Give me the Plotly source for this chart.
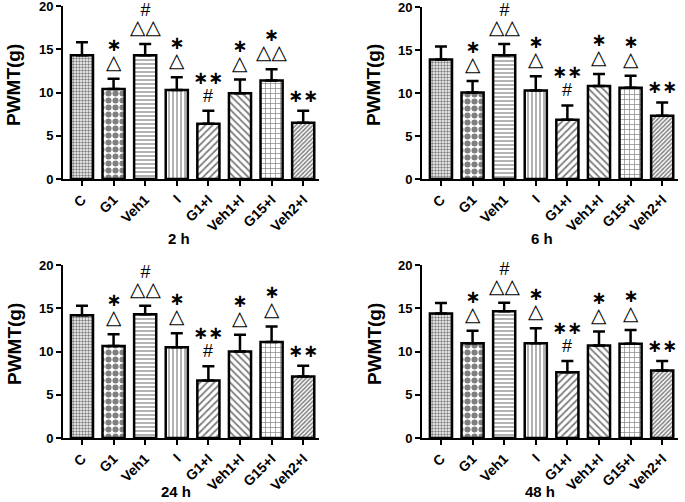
import plotly.graph_objects as go

categories = ["C", "G1", "Veh1", "I", "G1+I", "Veh1+I", "G15+I", "Veh2+I"]
panel_titles = ["2 h", "6 h", "24 h", "48 h"]

means_2h = [14.3, 10.4, 14.3, 10.3, 6.4, 9.9, 11.4, 6.5]
sd_2h = [1.5, 1.2, 1.3, 1.45, 1.5, 1.6, 1.3, 1.4]
means_6h = [13.9, 10.05, 14.4, 10.3, 6.9, 10.8, 10.6, 7.35]
sd_6h = [1.5, 1.35, 1.3, 1.65, 1.65, 1.4, 1.4, 1.55]
means_24h = [14.2, 10.65, 14.3, 10.5, 6.65, 10.0, 11.1, 7.1]
sd_24h = [1.1, 1.35, 1.0, 1.6, 1.65, 1.95, 1.8, 1.25]
means_48h = [14.4, 10.95, 14.65, 10.95, 7.6, 10.7, 10.9, 7.8]
sd_48h = [1.2, 1.45, 1.0, 1.75, 1.3, 1.6, 1.6, 1.1]

# significance marks per bar, listed bottom to top
marks_2h = [[], ["△", "*"], ["△△", "#"], ["△", "*"], ["#", "**"], ["△", "*"], ["△△", "*"], ["**"]]
marks_6h = [[], ["△", "*"], ["△△", "#"], ["△", "*"], ["#", "**"], ["△", "*"], ["△", "*"], ["**"]]
marks_24h = [[], ["△", "*"], ["△△", "#"], ["△", "*"], ["#", "**"], ["△", "*"], ["△", "*"], ["**"]]
marks_48h = [[], ["△", "*"], ["△△", "#"], ["△", "*"], ["#", "**"], ["△", "*"], ["△", "*"], ["**"]]

means_all = [means_2h, means_6h, means_24h, means_48h]
sd_all = [sd_2h, sd_6h, sd_24h, sd_48h]
marks_all = [marks_2h, marks_6h, marks_24h, marks_48h]

W, H = 685, 502
pattern_shapes = [".", ".", "-", "|", "/", "\\", "+", "/"]
pattern_sizes = [3, 7, 4, 4, 5, 5, 5, 3]
pattern_solid = [0.5, 0.6, 0.3, 0.3, 0.35, 0.35, 0.25, 0.5]

x_doms = [[63 / W, 319 / W], [422 / W, 678 / W], [63 / W, 319 / W], [422 / W, 678 / W]]
y_doms = [[1 - 179 / H, 1 - 6 / H], [1 - 179 / H, 1 - 7 / H],
          [1 - 438 / H, 1 - 265 / H], [1 - 438 / H, 1 - 265 / H]]
xtitle_pos = [(179, 238), (542, 238), (176, 491), (540, 491)]
ytitle_pos = [(14, 85), (374, 85), (14, 344), (374, 344)]

fig = go.Figure()
annotations = []
bold = dict(family="Liberation Sans, Arial, sans-serif", color="black", weight="bold")


def style_mark(m):
    if m.startswith("*"):
        return ('<span style="font-family:DejaVu Sans;font-size:18px;font-weight:bold">'
                + m.replace("*", "\u2217") + "</span>")
    if m == "#":
        return ('<span style="font-family:Liberation Sans;font-size:18px">'
                + m + "</span>")
    return '<span style="font-family:DejaVu Sans;font-size:20px">' + m + "</span>"


for p in range(4):
    xa = "x" if p == 0 else f"x{p + 1}"
    ya = "y" if p == 0 else f"y{p + 1}"
    fig.add_trace(go.Bar(
        x=categories, y=means_all[p], xaxis=xa, yaxis=ya, width=0.7,
        marker=dict(color="white", line=dict(color="black", width=2.5),
                    pattern=dict(shape=pattern_shapes, size=pattern_sizes,
                                 solidity=pattern_solid, fgcolor="black",
                                 bgcolor="white", fillmode="overlay")),
        error_y=dict(type="data", symmetric=False, array=sd_all[p],
                     arrayminus=[0] * len(categories), color="black",
                     thickness=2.5, width=6),
        showlegend=False, cliponaxis=False, hoverinfo="skip",
    ))
    axkey = "xaxis" if p == 0 else f"xaxis{p + 1}"
    aykey = "yaxis" if p == 0 else f"yaxis{p + 1}"
    fig.update_layout(**{
        axkey: dict(domain=x_doms[p], anchor=ya, range=[-0.6, 7.5], showline=True,
                    linewidth=2, linecolor="black", ticks="outside", ticklen=5,
                    tickwidth=2, tickcolor="black", tickangle=-45, automargin=False,
                    ticklabeloverflow="allow",
                    tickfont=dict(size=14, **bold), showgrid=False, zeroline=False),
        aykey: dict(domain=y_doms[p], anchor=xa, range=[0, 20], showline=True,
                    linewidth=2, linecolor="black", ticks="outside", ticklen=5,
                    tickwidth=2, tickcolor="black", tickvals=[0, 5, 10, 15, 20],
                    automargin=False, ticklabeloverflow="allow",
                    tickfont=dict(size=13, **bold), showgrid=False, zeroline=False),
    })
    tx, ty = xtitle_pos[p]
    annotations.append(dict(x=tx / W, y=1 - ty / H, xref="paper", yref="paper",
                            xanchor="center", yanchor="middle",
                            text=panel_titles[p], showarrow=False,
                            font=dict(size=15, **bold)))
    yx, yy = ytitle_pos[p]
    annotations.append(dict(x=yx / W, y=1 - yy / H, xref="paper", yref="paper",
                            xanchor="center", yanchor="middle",
                            text="PWMT(g)", textangle=-90, showarrow=False,
                            font=dict(size=19, **bold)))
    for i, cat in enumerate(categories):
        marks = marks_all[p][i]
        if not marks:
            continue
        top = means_all[p][i] + sd_all[p][i]
        text = "<br>".join(style_mark(m) for m in reversed(marks))
        annotations.append(dict(x=cat, y=top, xref=xa, yref=ya, text=text,
                                showarrow=False, yanchor="bottom", yshift=3,
                                font=dict(size=13.5, color="black",
                                          family="DejaVu Sans")))

fig.update_layout(width=W, height=H, margin=dict(l=0, r=0, t=0, b=0),
                  plot_bgcolor="white", paper_bgcolor="white",
                  annotations=annotations)
fig.write_html("out.html", config={"displayModeBar": False},
               post_script="document.body.style.margin='0';document.body.style.overflow='hidden';")
